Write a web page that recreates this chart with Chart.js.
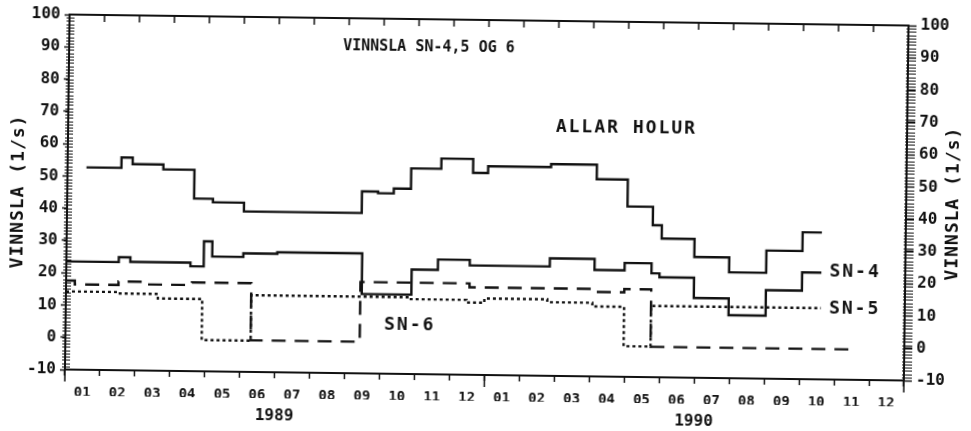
<!DOCTYPE html>
<html>
<head>
<meta charset="utf-8">
<style>
  html, body { margin: 0; background: #fff; }
  #wrap { width: 971px; height: 431px; overflow: hidden; background: #fff; }
  /* the scanned plot sits slightly skewed */
  #chart { display: block; transform: rotate(0.75deg); transform-origin: 50% 50%; }
</style>
<script src="https://cdn.jsdelivr.net/npm/chart.js@4"></script>
</head>
<body>
<div id="wrap"><canvas id="chart" width="971" height="431"></canvas></div>
<script>
const $ = document.querySelector.bind(document);

// x is months since 1 Jan 1989, each entry is where a step starts
const MONTH_LABELS = ["01", "02", "03", "04", "05", "06", "07", "08", "09", "10", "11", "12",
                      "01", "02", "03", "04", "05", "06", "07", "08", "09", "10", "11", "12"];
const YEAR_LABELS = ["1989", "1990"];
const YEAR_AT = [6, 18];
const Y_MIN = -10;
const Y_MAX = 100;

const TOTAL_AT = [0.54, 1.54, 1.86, 2.74, 3.63, 4.17, 5.06, 8.43, 8.89, 9.34, 9.83, 10.69,
                  11.6, 12.03, 13.83, 15.14, 16.03, 16.76, 17.02, 17.96, 18.96, 20.02, 21.05, 21.6];
const TOTAL = [52.7, 55.9, 53.9, 52.4, 43.5, 42.4, 39.7, 46.4, 45.9, 47.4, 53.7, 56.9,
               52.6, 54.7, 55.6, 51.1, 42.8, 37.1, 33.0, 27.4, 22.8, 29.7, 35.5, 35.5];

const SN4_AT = [0, 1.5, 1.83, 3.55, 3.93, 4.17, 5.06, 6.03, 8.46, 9.88, 10.63, 11.54,
                13.83, 15.11, 15.97, 16.74, 16.97, 17.96, 18.96, 20.02, 21.05, 21.6];
const SN4 = [23.5, 25.0, 23.6, 22.5, 30.3, 25.6, 26.7, 27.2, 14.6, 22.4, 25.6, 23.9,
             26.4, 23.0, 25.3, 22.2, 21.0, 14.7, 9.5, 17.4, 23.1, 23.1];

const SN5_AT = [0, 1.5, 2.63, 3.9, 5.3, 9.83, 11.46, 11.97, 13.77, 15.06, 15.97, 16.74, 21.6];
const SN5 = [14.2, 13.8, 12.4, -0.3, 13.8, 13.2, 12.4, 13.7, 12.8, 11.7, -0.5, 12.1, 12.1];

const SN6_AT = [0, 0.25, 1.5, 2.2, 3.6, 5.3, 8.42, 11.54, 15.11, 15.97, 16.74, 22.4];
const SN6 = [17.6, 16.4, 17.5, 16.7, 17.5, -0.2, 18.3, 17.1, 16.2, 17.2, -0.6, -0.6];

const INK = "#111";
const FONT = "'DejaVu Sans Mono', monospace";

// texts written inside the plot, placed in data units
const NOTES = [
  { text: "VINNSLA SN-4,5 OG 6", x: 10.29, y: 91.2, align: "center", size: 15, spacing: 0 },
  { text: "ALLAR HOLUR", x: 15.97, y: 67, align: "center", size: 18, spacing: 2 },
  { text: "SN-4", x: 21.83, y: 23.3, align: "left", size: 18, spacing: 2 },
  { text: "SN-5", x: 21.83, y: 12, align: "left", size: 18, spacing: 2 },
  { text: "SN-6", x: 9.11, y: 5, align: "left", size: 18, spacing: 2 },
];
const Y_TITLE = "VINNSLA (1/s)";

function steps(at, values) {
  return at.map((x, i) => ({ x, y: values[i] }));
}

function series(data, dash) {
  return {
    data,
    stepped: true,
    borderColor: INK,
    borderWidth: 2.4,
    borderDash: dash,
    pointRadius: 0,
    fill: false,
  };
}

const frame = {
  id: "frame",
  afterDraw(chart) {
    const { ctx, chartArea: a } = chart;
    const x = chart.scales.x;
    const y = chart.scales.y;
    ctx.save();
    ctx.strokeStyle = INK;

    ctx.lineWidth = 2;
    ctx.beginPath();
    ctx.moveTo(a.left, a.top);
    ctx.lineTo(a.right, a.top);
    ctx.stroke();

    // small ticks every 1 l/s on both sides
    ctx.lineWidth = 1.2;
    ctx.beginPath();
    for (let v = Y_MIN; v <= Y_MAX; v++) {
      const py = Math.round(y.getPixelForValue(v)) + 0.5;
      ctx.moveTo(a.left - 3, py);
      ctx.lineTo(a.left + 5, py);
      ctx.moveTo(a.right - 2, py);
      ctx.lineTo(a.right + 8, py);
    }
    ctx.stroke();

    ctx.lineWidth = 1.5;
    ctx.beginPath();
    for (let m = 1; m < MONTH_LABELS.length; m++) {
      const px = x.getPixelForValue(m);
      ctx.moveTo(px, a.top);
      ctx.lineTo(px, a.top + 7);
    }
    for (const m of [0, 12, 24]) {
      const px = x.getPixelForValue(m);
      ctx.moveTo(px, a.bottom);
      ctx.lineTo(px, a.bottom + 12);
    }
    ctx.stroke();

    ctx.fillStyle = INK;
    ctx.textBaseline = "middle";
    NOTES.forEach((n) => {
      ctx.font = `bold ${n.size}px ${FONT}`;
      ctx.letterSpacing = `${n.spacing}px`;
      ctx.textAlign = n.align;
      ctx.fillText(n.text, x.getPixelForValue(n.x), y.getPixelForValue(n.y));
    });

    ctx.font = `bold 18px ${FONT}`;
    ctx.letterSpacing = "1px";
    ctx.textAlign = "center";
    const mid = (a.top + a.bottom) / 2;
    [18, 953].forEach((px) => {
      ctx.save();
      ctx.translate(px, mid);
      ctx.rotate(-Math.PI / 2);
      ctx.fillText(Y_TITLE, 0, 0);
      ctx.restore();
    });
    ctx.restore();
  },
};

Chart.defaults.font.family = FONT;
Chart.defaults.font.weight = "bold";
Chart.defaults.color = INK;

new Chart($("#chart"), {
  type: "line",
  data: {
    datasets: [
      series(steps(TOTAL_AT, TOTAL), []),
      series(steps(SN4_AT, SN4), []),
      series(steps(SN5_AT, SN5), [3, 3]),
      series(steps(SN6_AT, SN6), [14, 9]),
    ],
  },
  options: {
    responsive: false,
    animation: false,
    layout: { padding: { top: 20, left: 0, right: 0, bottom: 0 } },
    plugins: { legend: { display: false }, tooltip: { enabled: false } },
    scales: {
      x: {
        type: "linear",
        position: "bottom",
        min: 0,
        max: MONTH_LABELS.length,
        weight: 0,
        afterBuildTicks: (axis) => {
          axis.ticks = MONTH_LABELS.map((_, i) => ({ value: i + 0.5 }));
        },
        afterFit: (axis) => { axis.height = 26; },
        ticks: {
          autoSkip: false,
          maxRotation: 0,
          padding: 9,
          font: { size: 14, weight: "bold" },
          callback: (value, i) => MONTH_LABELS[i],
        },
        grid: { offset: true, drawOnChartArea: false, tickLength: 6, tickWidth: 1.5, color: INK },
        border: { color: INK, width: 2 },
      },
      xYear: {
        type: "linear",
        position: "bottom",
        min: 0,
        max: MONTH_LABELS.length,
        weight: 1,
        afterBuildTicks: (axis) => {
          axis.ticks = YEAR_AT.map((v) => ({ value: v }));
        },
        afterFit: (axis) => { axis.height = 30; },
        ticks: {
          autoSkip: false,
          maxRotation: 0,
          padding: 0,
          font: { size: 16, weight: "bold" },
          callback: (value, i) => YEAR_LABELS[i],
        },
        grid: { display: false },
        border: { display: false },
      },
      y: {
        position: "left",
        min: Y_MIN,
        max: Y_MAX,
        afterFit: (axis) => { axis.width = 67; },
        ticks: { stepSize: 10, autoSkip: false, padding: 4, font: { size: 16, weight: "bold" } },
        grid: { drawOnChartArea: false, tickLength: 5, tickWidth: 1.5, color: INK },
        border: { color: INK, width: 2 },
      },
      y2: {
        position: "right",
        min: Y_MIN,
        max: Y_MAX,
        afterFit: (axis) => { axis.width = 65; },
        ticks: { stepSize: 10, autoSkip: false, padding: 4, font: { size: 16, weight: "bold" } },
        grid: { drawOnChartArea: false, tickLength: 8, tickWidth: 1.5, color: INK },
        border: { color: INK, width: 2 },
      },
    },
  },
  plugins: [frame],
});
</script>
</body>
</html>
